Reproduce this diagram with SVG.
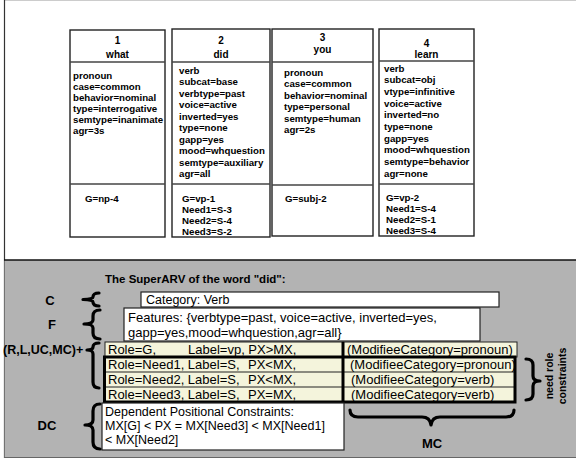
<svg xmlns="http://www.w3.org/2000/svg" width="576" height="460" viewBox="0 0 576 460">
<defs>
<style>
text{font-family:"Liberation Sans",Arial,sans-serif;fill:#000}
.box{fill:#fff;stroke:#222;stroke-width:1.4}
.div{stroke:#444;stroke-width:1.6}
.hd{font-size:10px;font-weight:bold;text-anchor:middle}
.ft{font-size:9.7px;font-weight:bold}
.lt{font-size:13px}
.dt{font-size:12.5px}
.lb{font-size:13px;font-weight:bold}
.wb{fill:#fff;stroke:#222;stroke-width:1.2}
.row{fill:#f4f4dc;stroke:#222;stroke-width:1}
.brace{fill:none;stroke:#000;stroke-width:3.2;stroke-linecap:round;stroke-linejoin:round}
</style>
</defs>
<rect x="0" y="0" width="576" height="460" fill="#fff"/>
<line x1="4" y1="0.5" x2="576" y2="0.5" stroke="#ccc" stroke-width="1"/>
<line x1="4.5" y1="0" x2="4.5" y2="458" stroke="#333" stroke-width="1.2"/>
<rect x="4.5" y="260" width="572" height="197" fill="#b3b3b3"/>
<line x1="4" y1="260" x2="576" y2="260" stroke="#111" stroke-width="1.5"/>
<line x1="4" y1="457.5" x2="576" y2="457.5" stroke="#666" stroke-width="1.2"/>

<g id="node1">
<rect class="box" x="70" y="30" width="95" height="207"/>
<line class="div" x1="70" y1="62" x2="165" y2="62"/>
<line class="div" x1="70" y1="184" x2="165" y2="184"/>
<text class="hd" x="117.5" y="44">1</text>
<text class="hd" x="117.5" y="57.5">what</text>
<text class="ft" x="73" y="78.5">pronoun</text>
<text class="ft" x="73" y="89.5">case=common</text>
<text class="ft" x="73" y="100.5">behavior=nominal</text>
<text class="ft" x="73" y="111.5">type=interrogative</text>
<text class="ft" x="73" y="122.5">semtype=inanimate</text>
<text class="ft" x="73" y="133.5">agr=3s</text>
<text class="ft" x="85" y="201.5">G=np-4</text>
</g>

<g id="node2">
<rect class="box" x="172" y="29" width="98" height="208"/>
<line class="div" x1="172" y1="62" x2="270" y2="62"/>
<line class="div" x1="172" y1="184" x2="270" y2="184"/>
<text class="hd" x="221" y="44">2</text>
<text class="hd" x="221" y="57.5">did</text>
<text class="ft" x="179" y="73.5">verb</text>
<text class="ft" x="179" y="85">subcat=base</text>
<text class="ft" x="179" y="96.5">verbtype=past</text>
<text class="ft" x="179" y="108">voice=active</text>
<text class="ft" x="179" y="119.5">inverted=yes</text>
<text class="ft" x="179" y="131">type=none</text>
<text class="ft" x="179" y="142.5">gapp=yes</text>
<text class="ft" x="179" y="154">mood=whquestion</text>
<text class="ft" x="179" y="165.5">semtype=auxiliary</text>
<text class="ft" x="179" y="177">agr=all</text>
<text class="ft" x="182" y="201.5">G=vp-1</text>
<text class="ft" x="182" y="212.5">Need1=S-3</text>
<text class="ft" x="182" y="223.5">Need2=S-4</text>
<text class="ft" x="182" y="234.5">Need3=S-2</text>
</g>

<g id="node3">
<rect class="box" x="272" y="29" width="101" height="207"/>
<line class="div" x1="272" y1="62" x2="373" y2="62"/>
<line class="div" x1="272" y1="185" x2="373" y2="185"/>
<text class="hd" x="322.5" y="40.5">3</text>
<text class="hd" x="322.5" y="52.5">you</text>
<text class="ft" x="284" y="75.5">pronoun</text>
<text class="ft" x="284" y="87">case=common</text>
<text class="ft" x="284" y="98.5">behavior=nominal</text>
<text class="ft" x="284" y="110">type=personal</text>
<text class="ft" x="284" y="121.5">semtype=human</text>
<text class="ft" x="284" y="133">agr=2s</text>
<text class="ft" x="285" y="201.5">G=subj-2</text>
</g>

<g id="node4">
<rect class="box" x="379" y="29" width="95" height="207"/>
<line class="div" x1="379" y1="61" x2="474" y2="61"/>
<line class="div" x1="379" y1="184" x2="474" y2="184"/>
<text class="hd" x="426.5" y="46.5">4</text>
<text class="hd" x="426.5" y="57.5">learn</text>
<text class="ft" x="384" y="71.5">verb</text>
<text class="ft" x="384" y="83.2">subcat=obj</text>
<text class="ft" x="384" y="94.9">vtype=infinitive</text>
<text class="ft" x="384" y="106.6">voice=active</text>
<text class="ft" x="384" y="118.3">inverted=no</text>
<text class="ft" x="384" y="130">type=none</text>
<text class="ft" x="384" y="141.7">gapp=yes</text>
<text class="ft" x="384" y="153.4">mood=whquestion</text>
<text class="ft" x="384" y="165.1">semtype=behavior</text>
<text class="ft" x="384" y="176.8">agr=none</text>
<text class="ft" x="386" y="200.5">G=vp-2</text>
<text class="ft" x="386" y="211.5">Need1=S-4</text>
<text class="ft" x="386" y="222.5">Need2=S-1</text>
<text class="ft" x="386" y="233.5">Need3=S-4</text>
</g>

<g id="superarv">
<text x="105" y="283" font-size="11.5" font-weight="bold">The SuperARV of the word "did":</text>
<rect class="wb" x="141" y="292" width="358" height="15"/>
<text x="146" y="303.5" font-size="12.5">Category: Verb</text>
<rect class="wb" x="124" y="308" width="356" height="33"/>
<text class="lt" x="128" y="321.5">Features: {verbtype=past, voice=active, inverted=yes,</text>
<text class="lt" x="128" y="337">gapp=yes,mood=whquestion,agr=all}</text>
<rect class="row" x="105" y="342" width="238" height="15"/>
<rect class="row" x="343" y="342" width="174" height="15"/>
<rect class="row" x="104.5" y="357" width="410.5" height="45"/>
<line x1="104" y1="372" x2="515" y2="372" stroke="#222" stroke-width="1"/>
<line x1="104" y1="387" x2="515" y2="387" stroke="#222" stroke-width="1"/>
<rect x="104.5" y="357" width="410.5" height="45" fill="none" stroke="#000" stroke-width="3"/>
<line x1="343" y1="342" x2="343" y2="402" stroke="#000" stroke-width="3"/>
<text class="lt" y="354"><tspan x="108">Role=G,</tspan><tspan x="188">Label=vp, PX&gt;MX,</tspan></text>
<text class="lt" y="369"><tspan x="108">Role=Need1, Label=S,</tspan><tspan x="248">PX&lt;MX,</tspan></text>
<text class="lt" y="384"><tspan x="108">Role=Need2, Label=S,</tspan><tspan x="248">PX&lt;MX,</tspan></text>
<text class="lt" y="399"><tspan x="108">Role=Need3, Label=S,</tspan><tspan x="248">PX=MX,</tspan></text>
<text class="lt" x="347" y="354">(ModifieeCategory=pronoun)</text>
<text class="lt" x="350" y="369">(ModifieeCategory=pronoun)</text>
<text class="lt" x="351" y="384">(ModifieeCategory=verb)</text>
<text class="lt" x="351" y="399">(ModifieeCategory=verb)</text>
<rect class="wb" x="102" y="403" width="242" height="47"/>
<text class="dt" x="105" y="416">Dependent Positional Constraints:</text>
<text class="dt" x="105" y="430">MX[G] &lt; PX = MX[Need3] &lt; MX[Need1]</text>
<text class="dt" x="105" y="444">&lt; MX[Need2]</text>
</g>

<g id="labels">
<text class="lb" x="50" y="304.5" text-anchor="middle">C</text>
<text class="lb" x="52" y="328.5" text-anchor="middle">F</text>
<text x="3" y="354" font-size="12.5" font-weight="bold">(R,L,UC,MC)+</text>
<text class="lb" x="47" y="429.5" text-anchor="middle">DC</text>
<text class="lb" x="432" y="447.5" text-anchor="middle">MC</text>
<text font-size="10.5" font-weight="bold" text-anchor="middle" transform="translate(553,376) rotate(-90)">need role</text>
<text font-size="10.5" font-weight="bold" text-anchor="middle" transform="translate(566,376) rotate(-90)">constraints</text>
</g>

<g id="connectors">
<path class="brace" d="M99,293 Q93,293 93,297 Q93,299.5 83,299.5 Q93,299.5 93,302 Q93,306 99,306"/>
<path class="brace" d="M100,310 Q93,310 93,316 L93,320 Q93,324 84,324 Q93,324 93,328 L93,333 Q93,339 100,339"/>
<path class="brace" d="M99,343 Q93,343 93,347 Q93,350 87,350 Q93,350 93,354 L93,382 Q93,388 99,388"/>
<path class="brace" d="M100,404 Q93,404 93,411 L93,420 Q93,425 85,425 Q93,425 93,430 L93,442 Q93,449 100,449"/>
<path class="brace" d="M526,359 Q533,359 533,365 L533,376 Q533,381 540,381 Q533,381 533,386 L533,394 Q533,400 526,400"/>
<path class="brace" d="M350,410 Q350,417 358,417 L422,417 Q430,417 431,425 Q432,417 440,417 L506,417 Q514,417 514,410" stroke-width="4"/>
</g>
</svg>
